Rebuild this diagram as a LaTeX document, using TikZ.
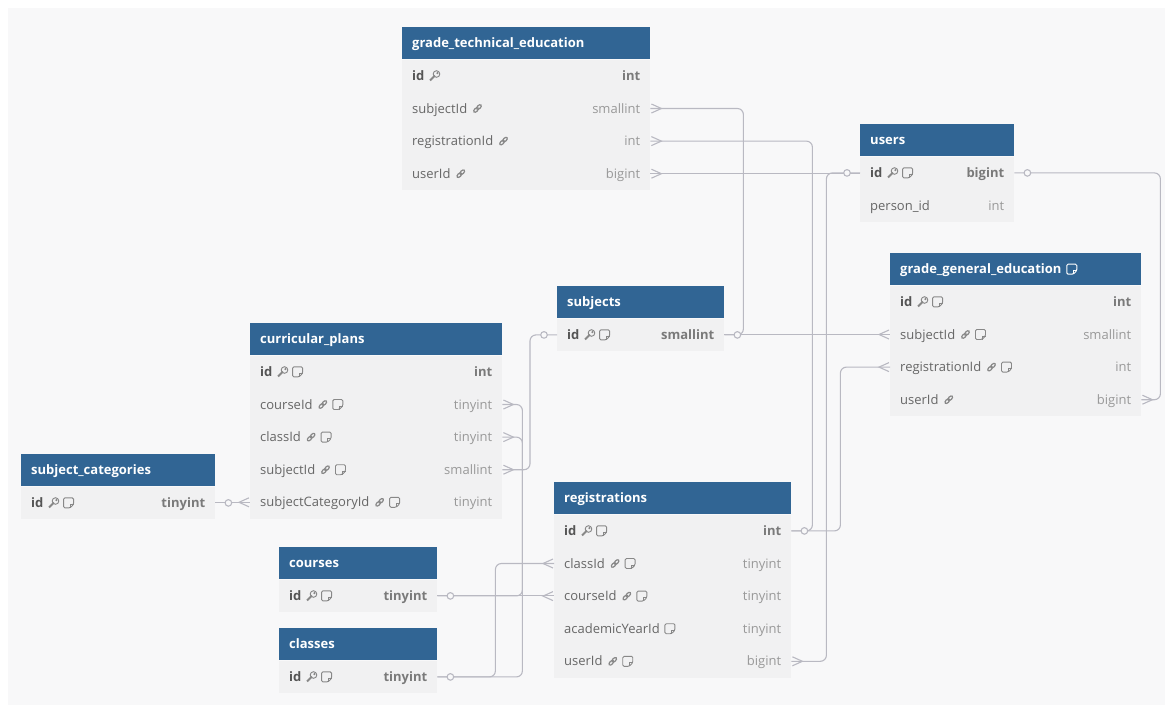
\documentclass[tikz,border=0pt]{standalone}
\usepackage{fontspec}
\setmainfont{Open Sans}
\usetikzlibrary{calc}
\definecolor{bgc}{HTML}{F8F8F9}
\definecolor{hdrc}{HTML}{316594}
\definecolor{rowc}{HTML}{F1F1F2}
\definecolor{namec}{HTML}{666666}
\definecolor{pknamec}{HTML}{555555}
\definecolor{typec}{HTML}{999999}
\definecolor{pktypec}{HTML}{7A7A7A}
\definecolor{connc}{HTML}{B9B9C2}
\definecolor{iconc}{HTML}{888888}
\newcommand\rfont{\fontsize{13}{15}\selectfont}
\tikzset{
  hdr/.style={rectangle, fill=hdrc, minimum height=32, inner sep=0, draw=none},
  hdrtxt/.style={anchor=base west, inner sep=0, text=white, font=\rfont\bfseries},
  rowbox/.style={rectangle, fill=rowc, minimum height=32.6, inner sep=0, draw=none},
  fkname/.style={anchor=base west, inner sep=0, text=namec, font=\rfont},
  fktype/.style={anchor=base east, inner sep=0, text=typec, font=\rfont},
  pkname/.style={anchor=base west, inner sep=0, text=pknamec, font=\rfont\bfseries},
  pktype/.style={anchor=base east, inner sep=0, text=pktypec, font=\rfont\bfseries},
  conn/.style={draw=connc, line width=1.1, rounded corners=6},
  connend/.style={draw=connc, line width=1.1, sharp corners},
  iconl/.style={draw=iconc, line width=0.9},
  pics/keyic/.style={code={
    \draw[iconl] (6.9,-1.9) circle (3.3);
    \draw[iconl] (1.2,4.6) -- (0.4,3.8) -- (4.6,-0.4) -- (5.4,0.4) -- cycle;
    \draw[iconl] (7.8,-2.8) circle (0.6);
  }},
  pics/linkic/.style={code={
    \begin{scope}[shift={(5,0)}, rotate=45]
      \draw[iconl, line width=1.2] (-2.1,0) ellipse [x radius=2.8, y radius=1.6];
      \draw[iconl, line width=1.2] (2.1,0) ellipse [x radius=2.8, y radius=1.6];
    \end{scope}
  }},
  pics/noteic/.style={code={
    \draw[iconl, rounded corners=1.3] (0,-5) -- (10,-5) -- (10,1.5) -- (6.5,5) -- (0,5) -- cycle;
    \draw[iconl] (6.5,5) -- (6.5,1.5) -- (10,1.5);
  }},
  pics/whitenote/.style={code={
    \draw[draw=white, line width=1, rounded corners=1.3] (0,-5) -- (10,-5) -- (10,1.5) -- (6.5,5) -- (0,5) -- cycle;
    \draw[draw=white, line width=1] (6.5,5) -- (6.5,1.5) -- (10,1.5);
  }},
}
\newcommand\tablehead[5]{%
  \def\tw{#4}%
  \node[hdr, minimum width=#4, anchor=north west] (#1) at (#2,#3) {};
  \node[hdrtxt] (#1-t) at ($(#1.west)+(10,4.6)$) {#5};}
\newcommand\erow[7]{%
  \node[rowbox, minimum width=\tw, anchor=north west] (#1) at ($(#2.south west)+(0,{32.6*(#3-1)})$) {};
  \node[#7name] (#1-n) at ($(#1.west)+(10,4.6)$) {#4};
  \node[#7type] (#1-ty) at ($(#1.east)+(-10,4.6)$) {#6};
  \def\cur{#1-n}#5}
\newcommand\icK{\pic at ($(\cur.base east)+(5,-4.6)$) {keyic};}
\newcommand\icL{\pic at ($(\cur.base east)+(5,-4.6)$) {linkic};}
\newcommand\icN{\pic at ($(\cur.base east)+(5,-4.6)$) {noteic};}
\newcommand\icKN{\icK\pic at ($(\cur.base east)+(20,-4.6)$) {noteic};}
\newcommand\icLN{\icL\pic at ($(\cur.base east)+(20,-4.6)$) {noteic};}
\newcommand\crowR[1]{\draw[connend] ($(#1)+(1,-4.5)$) -- ($(#1)+(11,0)$) -- ($(#1)+(1,4.5)$);}
\newcommand\crowL[1]{\draw[connend] ($(#1)+(-1,-4.5)$) -- ($(#1)+(-11,0)$) -- ($(#1)+(-1,4.5)$);}
\newcommand\oneR[1]{\draw[connend, fill=bgc] ($(#1)+(13,0)$) circle (3.3);}
\newcommand\oneL[1]{\draw[connend, fill=bgc] ($(#1)+(-13,0)$) circle (3.3);}
\begin{document}
\begin{tikzpicture}[x=1pt,y=-1pt]
\useasboundingbox (0,0) rectangle (1170,713);
\fill[white] (0,0) rectangle (1170,713);
\fill[bgc] (8,8) rectangle (1165,705);

% grade_technical_education
\tablehead{gte}{402}{27}{248}{grade\_technical\_education}
\erow{gte-id}{gte}{1}{id}{\icK}{int}{pk}
\erow{gte-subjectId}{gte}{2}{subjectId}{\icL}{smallint}{fk}
\erow{gte-registrationId}{gte}{3}{registrationId}{\icL}{int}{fk}
\erow{gte-userId}{gte}{4}{userId}{\icL}{bigint}{fk}

% users
\tablehead{users}{860}{124}{154}{users}
\erow{users-id}{users}{1}{id}{\icKN}{bigint}{pk}
\erow{users-person}{users}{2}{person\_id}{}{int}{fk}

% grade_general_education
\tablehead{gge}{890}{253}{251}{grade\_general\_education}
\pic at ($(gge-t.base east)+(5,-4.6)$) {whitenote};
\erow{gge-id}{gge}{1}{id}{\icKN}{int}{pk}
\erow{gge-subjectId}{gge}{2}{subjectId}{\icLN}{smallint}{fk}
\erow{gge-registrationId}{gge}{3}{registrationId}{\icLN}{int}{fk}
\erow{gge-userId}{gge}{4}{userId}{\icL}{bigint}{fk}

% subjects
\tablehead{subj}{557}{286}{167}{subjects}
\erow{subj-id}{subj}{1}{id}{\icKN}{smallint}{pk}

% curricular_plans
\tablehead{cp}{250}{323}{252}{curricular\_plans}
\erow{cp-id}{cp}{1}{id}{\icKN}{int}{pk}
\erow{cp-courseId}{cp}{2}{courseId}{\icLN}{tinyint}{fk}
\erow{cp-classId}{cp}{3}{classId}{\icLN}{tinyint}{fk}
\erow{cp-subjectId}{cp}{4}{subjectId}{\icLN}{smallint}{fk}
\erow{cp-subjectCategoryId}{cp}{5}{subjectCategoryId}{\icLN}{tinyint}{fk}

% subject_categories
\tablehead{sc}{21}{454}{194}{subject\_categories}
\erow{sc-id}{sc}{1}{id}{\icKN}{tinyint}{pk}

% registrations
\tablehead{reg}{554}{482}{237}{registrations}
\erow{reg-id}{reg}{1}{id}{\icKN}{int}{pk}
\erow{reg-classId}{reg}{2}{classId}{\icLN}{tinyint}{fk}
\erow{reg-courseId}{reg}{3}{courseId}{\icLN}{tinyint}{fk}
\erow{reg-academicYearId}{reg}{4}{academicYearId}{\icN}{tinyint}{fk}
\erow{reg-userId}{reg}{5}{userId}{\icLN}{bigint}{fk}

% courses
\tablehead{courses}{279}{547}{158}{courses}
\erow{courses-id}{courses}{1}{id}{\icKN}{tinyint}{pk}

% classes
\tablehead{classes}{279}{628}{158}{classes}
\erow{classes-id}{classes}{1}{id}{\icKN}{tinyint}{pk}

% connectors
\draw[conn] (gte-subjectId.east) -| ($(subj-id.east)+(19,0)$) -- (subj-id.east);
\draw[conn] (subj-id.east) -- (subj-id.east -| gge-subjectId.west);
\draw[conn] (gte-registrationId.east) -| ($(reg-id.east)+(21,0)$) -- (reg-id.east);
\draw[conn] (reg-id.east) -- ++(49,0) |- (gge-registrationId.west);
\draw[conn] (reg-userId.east) -- ++(35,0) |- (users-id.west);
\draw[conn] (gte-userId.east) -- (gte-userId.east -| users-id.west);
\draw[conn] (users-id.east) -- ++(146,0) |- (gge-userId.east);
\draw[conn] (sc-id.east) -- (sc-id.east -| cp-subjectCategoryId.west);
\draw[conn] (subj-id.west) -- ++(-27,0) |- (cp-subjectId.east);
\draw[conn] (courses-id.east) -- (courses-id.east -| reg-courseId.west);
\draw[conn] (courses-id.east) -- ++(85,0) |- (cp-courseId.east);
\draw[conn] (classes-id.east) -- ++(58,0) |- (reg-classId.west);
\draw[conn] (classes-id.east) -- ++(85,0) |- (cp-classId.east);

% many ends
\crowR{gte-subjectId.east}
\crowR{gte-registrationId.east}
\crowR{gte-userId.east}
\crowL{gge-subjectId.west}
\crowL{gge-registrationId.west}
\crowR{gge-userId.east}
\crowL{cp-subjectCategoryId.west}
\crowR{cp-subjectId.east}
\crowR{cp-courseId.east}
\crowR{cp-classId.east}
\crowR{reg-userId.east}
\crowL{reg-courseId.west}
\crowL{reg-classId.west}

% one ends
\oneR{subj-id.east}
\oneL{subj-id.west}
\oneR{reg-id.east}
\oneL{users-id.west}
\oneR{users-id.east}
\oneR{sc-id.east}
\oneR{courses-id.east}
\oneR{classes-id.east}
\end{tikzpicture}
\end{document}
